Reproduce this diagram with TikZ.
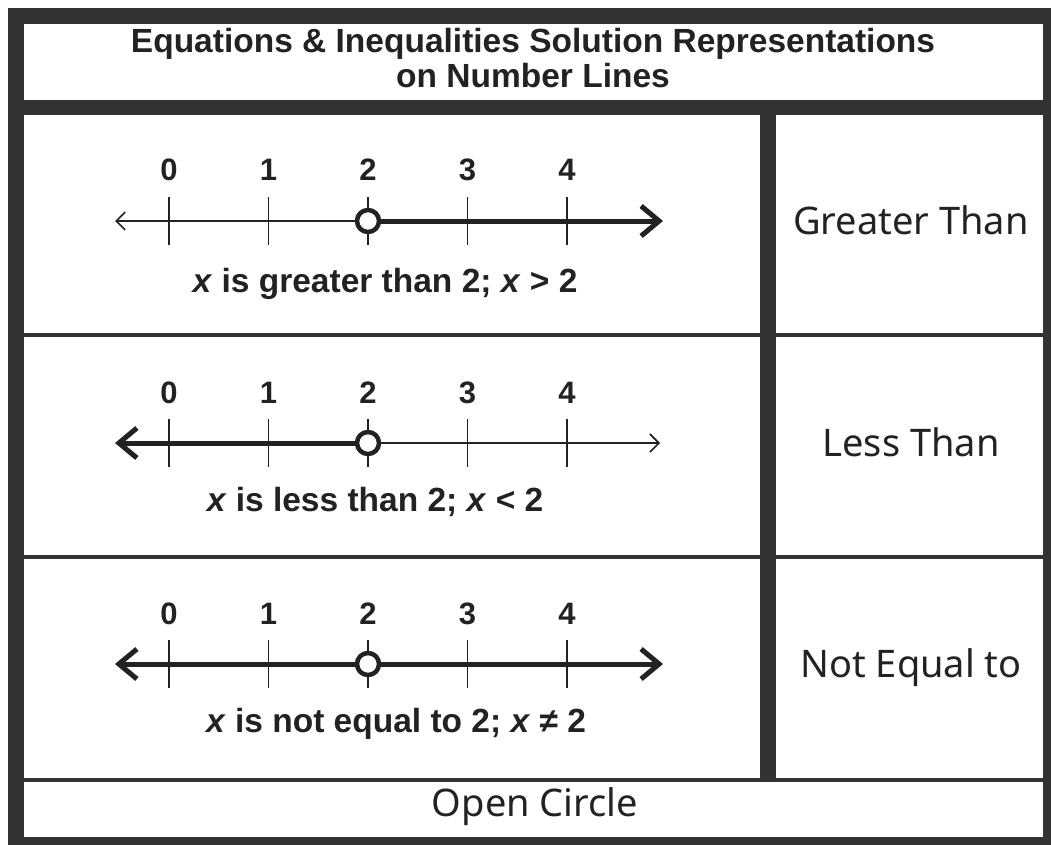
\documentclass[tikz,border=0pt]{standalone}
\usepackage{fontspec}
\setmainfont{Liberation Sans}
\newfontfamily\handfont{Noto Sans}
\usetikzlibrary{arrows.meta}
\definecolor{framegray}{HTML}{333333}
\definecolor{ink}{HTML}{222222}
\begin{document}
\begin{tikzpicture}[x=1pt,y=-1pt,
  frameline/.style={draw=framegray, line width=16pt},
  septhin/.style={draw=framegray, line width=3.5pt},
  thinline/.style={draw=ink, line width=1.8pt},
  thickline/.style={draw=ink, line width=5pt},
  ticklabel/.style={anchor=base, inner sep=0pt, text=ink, font=\fontsize{31}{36}\selectfont\bfseries},
  caption/.style={anchor=base, inner sep=0pt, text=ink, font=\fontsize{33.5}{40}\selectfont\bfseries},
  titletext/.style={anchor=base, inner sep=0pt, text=ink, font=\fontsize{33.5}{40}\selectfont\bfseries},
  hand/.style={anchor=base, inner sep=0pt, text=ink, font=\fontsize{38}{44}\handfont},
  opendot/.style={circle, draw=ink, line width=4.5pt, fill=white, minimum size=22pt, inner sep=0pt},
  thintip/.tip={Straight Barb[length=9pt, width=18pt, line width=1.6pt]},
  thicktip/.tip={Straight Barb[length=18pt, width=30pt, line width=5pt]}
]
\useasboundingbox (0,0) rectangle (1051,845);
\clip (0,0) rectangle (1051,845);
\fill[white] (0,0) rectangle (1051,845);

% grid lines
\draw[septhin] (24,335) -- (1043,335);
\draw[septhin] (24,557) -- (1043,557);
\draw[septhin] (24,780) -- (1043,780);
\draw[frameline] (768,107) -- (768,780);
\draw[frameline, line width=15pt] (16,107.5) -- (1051,107.5);
\draw[frameline] (16,16) rectangle (1051,845);

% title
\node[titletext] (title1) at (533,53) {Equations \& Inequalities Solution Representations};
\node[titletext] (title2) at (533,88) {on Number Lines};

% number lines
\foreach \r/\ay in {1/221, 2/443, 3/664} {
  \coordinate (L\r) at (115,\ay);
  \coordinate (R\r) at (663,\ay);
  \coordinate (m\r) at (368,\ay);
  \foreach \k in {0,...,4} {
    \coordinate (tk\r-\k) at ({169+99.5*\k},\ay);
    \draw[thinline] ([yshift=-24pt]tk\r-\k) -- ([yshift=24pt]tk\r-\k);
    \node[ticklabel] (lab\r-\k) at ({169+99.5*\k},{\ay-40}) {\k};
  }
}
% row 1: x > 2
\draw[thinline, {thintip}-] (L1) -- (m1);
\draw[thickline, -{thicktip}] (m1) -- (R1);
% row 2: x < 2
\draw[thickline, {thicktip}-] (L2) -- (m2);
\draw[thinline, -{thintip}] (m2) -- ([xshift=-3pt]R2);
% row 3: x != 2
\draw[thickline, {thicktip}-{thicktip}] (L3) -- (R3);

\node[opendot] (c1) at (m1) {};
\node[opendot] (c2) at (m2) {};
\node[opendot] (c3) at (m3) {};

% captions
\node[caption] (cap1) at (385,292) {\textit{x} is greater than 2; \textit{x} > 2};
\node[caption] (cap2) at (375,511) {\textit{x} is less than 2; \textit{x} < 2};
\node[caption] (cap3) at (396,732) {\textit{x} is not equal to 2; \textit{x} ≠ 2};

% right column
\node[hand] (gt) at (911,234) {Greater Than};
\node[hand] (lt) at (911,456) {Less Than};
\node[hand] (ne) at (911,677) {Not Equal to};
\node[hand] (oc) at (535,816) {Open Circle};
\end{tikzpicture}
\end{document}
